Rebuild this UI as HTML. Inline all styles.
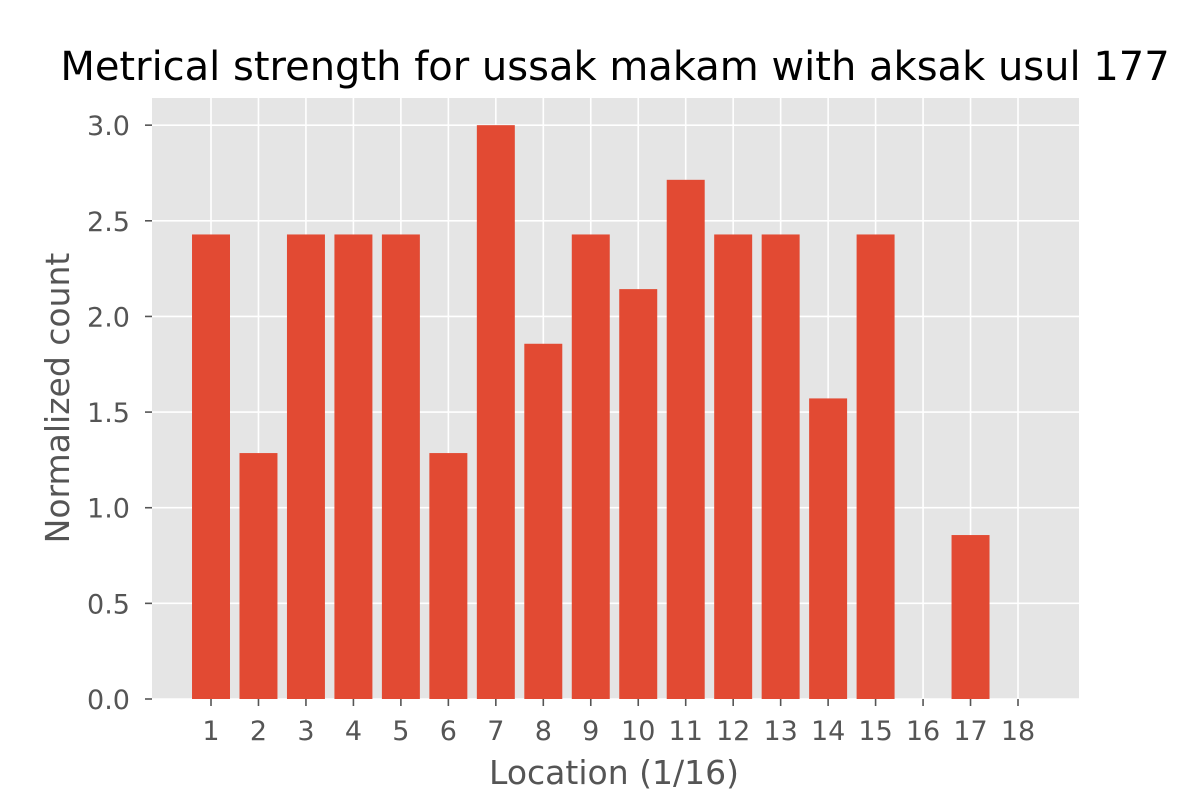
<!DOCTYPE html>
<html><head><meta charset="utf-8"><style>
html,body{margin:0;padding:0;background:#fff;}
svg{display:block;font-family:"DejaVu Sans","Liberation Sans",sans-serif;}
</style></head><body>
<svg id="chart" width="1200" height="800">
<rect x="0" y="0" width="1200" height="800" fill="#fff"/>
<rect x="152" y="98" width="927" height="601" fill="#e5e5e5"/>
<g id="grid"></g><g id="bars"></g><g id="ticks"></g>
<text x="615" y="80" font-size="40" text-anchor="middle" fill="#000">Metrical strength for ussak makam with aksak usul 177</text>
<text x="614" y="784" font-size="33" text-anchor="middle" fill="#555">Location (1/16)</text>
<text transform="translate(69,398) rotate(-90)" font-size="33" text-anchor="middle" fill="#555">Normalized count</text>
</svg>
<script>
const categories=[1,2,3,4,5,6,7,8,9,10,11,12,13,14,15,16,17,18];
const values=[17/7,9/7,17/7,17/7,17/7,9/7,3,13/7,17/7,15/7,19/7,17/7,17/7,11/7,17/7,0,6/7,0];
const yTicks=[0,0.5,1,1.5,2,2.5,3];
const yTickLabels=["0.0","0.5","1.0","1.5","2.0","2.5","3.0"];
const NS="http://www.w3.org/2000/svg";
const L=152,R=1079,T=98,B=699,xmin=-0.243,xmax=19.285,ymax=3.142;
const xs=v=>L+(v-xmin)/(xmax-xmin)*(R-L);
const ys=v=>B-v/ymax*(B-T);
function mk(tag,attrs,parent){const e=document.createElementNS(NS,tag);for(const k in attrs)e.setAttribute(k,attrs[k]);document.getElementById(parent).appendChild(e);return e;}
yTicks.forEach((t,i)=>{
  const g=mk('line',{x1:L,x2:R,y1:ys(t),y2:ys(t),stroke:'#fff','stroke-width':1.6},'grid');
  
  
  const tk=mk('line',{x1:L-7,x2:L,y1:ys(t),y2:ys(t),stroke:'#555','stroke-width':1.6},'ticks');
  
  
  const tx=mk('text',{x:L-22,y:ys(t)+10,'font-size':27,'text-anchor':'end',fill:'#555'},'ticks');
  tx.textContent=yTickLabels[i];
  
  
});
categories.forEach((c,i)=>{
  const g=mk('line',{x1:xs(c),x2:xs(c),y1:T,y2:B,stroke:'#fff','stroke-width':1.6},'grid');
  
  
  const b=mk('rect',{x:xs(c-0.4),y:ys(values[i]),width:xs(c+0.4)-xs(c-0.4),height:B-ys(values[i]),fill:'#e24a33'},'bars');
  
  
  const tk=mk('line',{x1:xs(c),x2:xs(c),y1:B,y2:B+7,stroke:'#555','stroke-width':1.6},'ticks');
  
  
  const tx=mk('text',{x:xs(c),y:B+41,'font-size':27,'text-anchor':'middle',fill:'#555'},'ticks');
  tx.textContent=String(c);
  
  
});
</script>
</body></html>
